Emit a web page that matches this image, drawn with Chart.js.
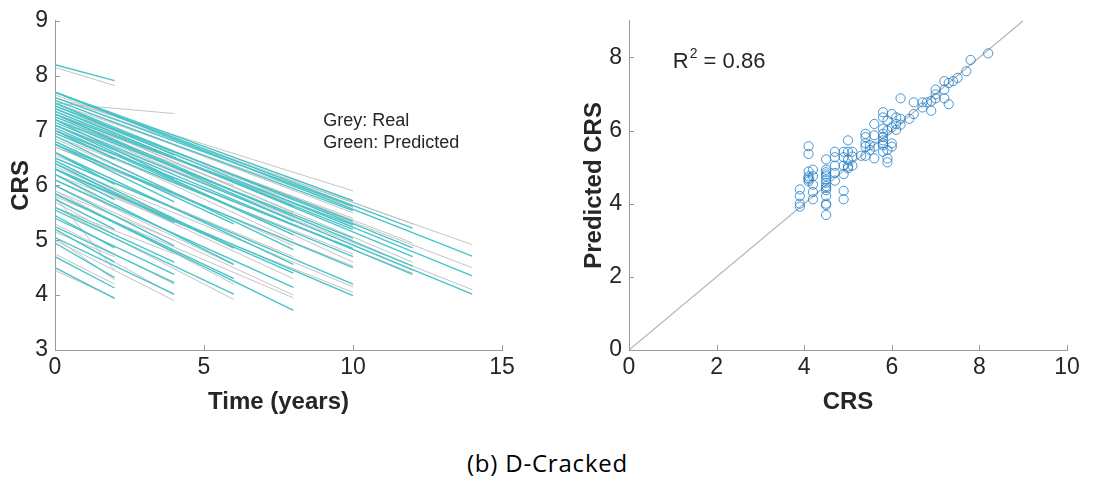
<!DOCTYPE html>
<html>
<head>
<meta charset="utf-8">
<script src="https://cdn.jsdelivr.net/npm/chart.js@4.4.0/dist/chart.umd.min.js"></script>
<style>
  html, body { margin: 0; background: #fff; }
  body { width: 1095px; height: 484px; position: relative; overflow: hidden; }
  #trend { position: absolute; left: 0; top: 0; }
  #fit { position: absolute; left: 560px; top: 0; }
  #caption { position: absolute; left: 0; width: 1095px; top: 446px; text-align: center;
             font: 24px 'Open Sans', sans-serif; letter-spacing: 0.8px; color: #000; }
</style>
</head>
<body>
<canvas id="trend" width="520" height="420"></canvas>
<canvas id="fit" width="535" height="420"></canvas>
<div id="caption">(b) D-Cracked</div>
<script>
// CRS trajectories per section: follow-up length, predicted and measured start/end
const endTimes  = [2, 2, 2, 2, 2, 2, 2, 2, 2, 2,
                   4, 4, 4, 4, 4, 4, 4, 4, 4,
                   6, 6, 6, 6, 6, 6, 6,
                   8, 8, 8, 8, 8, 8, 8, 8,
                   10, 10, 10, 10, 10, 10, 10, 10, 10, 10, 10, 10,
                   12, 12, 12, 12, 12,
                   14, 14, 14];
const predStart = [8.20, 7.00, 6.60, 6.30, 5.75, 5.45, 5.20, 4.95, 4.70, 4.50,
                   7.50, 7.20, 6.75, 6.40, 6.00, 5.60, 5.40, 5.25, 5.05,
                   7.30, 7.10, 6.80, 6.45, 6.20, 5.85, 5.55,
                   7.40, 7.30, 7.05, 6.90, 6.60, 6.30, 6.10, 5.85,
                   7.70, 7.60, 7.55, 7.45, 7.35, 7.30, 7.20, 7.00, 6.95, 6.75, 6.50, 6.30,
                   7.70, 7.50, 7.40, 7.25, 7.10,
                   7.70, 7.45, 7.15];
const predEnd   = [7.91, 6.48, 6.02, 5.74, 5.20, 4.86, 4.60, 4.32, 4.13, 3.94,
                   6.55, 6.12, 5.70, 5.32, 4.90, 4.60, 4.38, 4.23, 4.02,
                   5.90, 5.60, 5.30, 4.86, 4.56, 4.30, 4.02,
                   5.62, 5.35, 5.10, 4.83, 4.56, 4.40, 4.14, 3.72,
                   5.72, 5.62, 5.54, 5.35, 5.20, 5.28, 5.04, 4.85, 4.70, 4.50, 4.20, 3.99,
                   5.22, 4.86, 4.70, 4.53, 4.38,
                   4.71, 4.35, 4.02];
const realStart = [8.15, 6.95, 6.55, 6.20, 5.70, 5.80, 5.15, 5.05, 4.75, 4.45,
                   7.50, 7.10, 6.70, 6.35, 5.90, 5.60, 5.30, 5.20, 5.00,
                   7.20, 7.00, 6.70, 6.40, 6.10, 5.90, 5.60,
                   7.35, 7.20, 7.00, 6.85, 6.50, 6.30, 6.00, 5.80,
                   7.60, 7.55, 7.50, 7.40, 7.30, 7.25, 7.10, 7.10, 6.90, 6.70, 6.40, 6.20,
                   7.65, 7.45, 7.35, 7.20, 7.00,
                   7.60, 7.40, 7.10];
const realEnd   = [7.82, 6.55, 6.10, 5.60, 5.10, 4.45, 4.70, 4.28, 4.20, 3.95,
                   7.31, 6.20, 5.85, 5.40, 5.00, 4.75, 4.20, 4.00, 3.90,
                   6.00, 5.70, 5.40, 4.85, 4.55, 4.20, 3.92,
                   5.50, 5.45, 5.00, 4.90, 4.70, 4.30, 4.00, 3.95,
                   5.90, 5.50, 5.60, 5.40, 5.25, 5.35, 5.00, 4.60, 4.75, 4.53, 4.15, 4.05,
                   5.30, 4.95, 4.60, 4.45, 4.40,
                   4.92, 4.50, 4.10];

// measured vs predicted CRS
const crsMeasured  = [3.9, 3.9, 3.9, 3.9,
                      4.1, 4.1, 4.1, 4.1, 4.1, 4.1, 4.1,
                      4.2, 4.2, 4.2, 4.2, 4.2,
                      4.5, 4.5, 4.5, 4.5, 4.5, 4.5, 4.5, 4.5, 4.5, 4.5, 4.5, 4.5, 4.5, 4.5,
                      4.7, 4.7, 4.7, 4.7, 4.7,
                      4.9, 4.9, 4.9, 4.9, 4.9, 4.9,
                      5.0, 5.0, 5.0, 5.0, 5.0,
                      5.1, 5.1, 5.1, 5.3,
                      5.4, 5.4, 5.4, 5.4, 5.4, 5.5, 5.5,
                      5.6, 5.6, 5.6, 5.6,
                      5.8, 5.8, 5.8, 5.8, 5.8, 5.8, 5.8, 5.8, 5.8,
                      5.9, 5.9, 5.9, 5.9, 5.9,
                      6.0, 6.0, 6.0, 6.0,
                      6.1, 6.1, 6.1, 6.2, 6.2, 6.2, 6.4,
                      6.5, 6.5, 6.7, 6.7, 6.8, 6.9, 6.9,
                      7.0, 7.0, 7.0, 7.2, 7.2, 7.2, 7.3, 7.3, 7.4, 7.5,
                      7.7, 7.8, 8.2];
const crsPredicted = [4.39, 4.21, 4.00, 3.92,
                      5.57, 5.36, 4.88, 4.75, 4.70, 4.66, 4.61,
                      4.93, 4.75, 4.52, 4.32, 4.12,
                      5.21, 4.93, 4.86, 4.80, 4.75, 4.66, 4.57, 4.48, 4.43, 4.37, 4.21, 4.00, 3.96, 3.69,
                      5.42, 5.27, 5.04, 4.84, 4.63,
                      5.42, 5.27, 5.04, 4.81, 4.35, 4.12,
                      5.73, 5.42, 5.20, 5.02, 4.97,
                      5.42, 5.29, 5.04, 5.31,
                      5.91, 5.82, 5.65, 5.56, 5.31, 5.47, 5.60,
                      6.18, 5.87, 5.56, 5.24,
                      6.50, 6.36, 6.05, 5.91, 5.82, 5.73, 5.65, 5.60, 5.42,
                      6.27, 6.00, 5.47, 5.24, 5.13,
                      6.45, 6.09, 5.65, 5.56,
                      6.36, 6.18, 6.02, 6.88, 6.32, 6.16, 6.32,
                      6.77, 6.45, 6.77, 6.63, 6.77, 6.81, 6.54,
                      7.12, 6.99, 6.88, 7.35, 7.12, 6.88, 7.30, 6.72, 7.35, 7.44,
                      7.62, 7.93, 8.11];
const identityLine = [0, 9];

const TEAL = 'rgb(72,196,200)';
const GREY = 'rgba(190,190,190,0.9)';
const AXIS = '#9a9a9a';
const TEXT = '#262626';
const FONT = "'Liberation Sans', Arial, sans-serif";

// MATLAB-style ticks pointing into the plot area
const innerTicks = {
  id: 'innerTicks',
  afterDraw(chart) {
    const { ctx, chartArea: a } = chart;
    const xs = chart.scales.x, ys = chart.scales.y;
    ctx.save();
    ctx.strokeStyle = AXIS;
    ctx.lineWidth = 1;
    ctx.beginPath();
    xs.ticks.forEach(t => {
      const px = Math.round(xs.getPixelForValue(t.value)) + 0.5;
      ctx.moveTo(px, a.bottom); ctx.lineTo(px, a.bottom - 5);
    });
    ys.ticks.forEach(t => {
      const py = Math.round(ys.getPixelForValue(t.value)) + 0.5;
      ctx.moveTo(a.left, py); ctx.lineTo(a.left + 5, py);
    });
    ctx.stroke();
    ctx.restore();
  }
};

// free text placed in data coordinates
const notes = {
  id: 'notes',
  afterDraw(chart, args, opts) {
    const { ctx } = chart;
    const xs = chart.scales.x, ys = chart.scales.y;
    ctx.save();
    ctx.fillStyle = TEXT;
    ctx.textBaseline = 'alphabetic';
    (opts.items || []).forEach(it => {
      let px = xs.getPixelForValue(it.x);
      const py = ys.getPixelForValue(it.y);
      ctx.font = it.font;
      ctx.fillText(it.text, px, py);
      if (it.sup) {
        px += ctx.measureText(it.text).width;
        ctx.font = it.supFont;
        ctx.fillText(it.sup, px + 1, py - 10);
        px += ctx.measureText(it.sup).width + 1;
        ctx.font = it.font;
        ctx.fillText(it.rest, px, py);
      }
    });
    ctx.restore();
  }
};

function axis(min, max, step, title, width, titlePad, isY) {
  return {
    type: 'linear', min, max,
    afterFit(scale) { if (isY) scale.width = width; else scale.height = width; },
    // only labelled ticks up to the last whole step
    afterBuildTicks(scale) {
      scale.ticks = scale.ticks.filter(t => (t.value - min) % step === 0);
    },
    grid: { display: true, drawOnChartArea: false, drawTicks: false },
    border: { display: true, color: AXIS, width: 1 },
    ticks: { stepSize: step, color: TEXT, font: { family: FONT, size: 23 }, padding: isY ? 7 : 4 },
    title: { display: true, text: title, color: TEXT, padding: titlePad,
             font: { family: FONT, size: 24, weight: 'bold' } }
  };
}

const base = {
  responsive: false,
  animation: false,
  devicePixelRatio: 1,
  events: [],
  plugins: { legend: { display: false }, tooltip: { enabled: false } }
};

// left: CRS over time
const trendSets = [];
endTimes.forEach((t, i) => {
  trendSets.push({
    data: [{ x: 0, y: predStart[i] }, { x: t, y: predEnd[i] }],
    showLine: true, borderColor: TEAL, borderWidth: 1.4, pointRadius: 0, order: 0
  });
  trendSets.push({
    data: [{ x: 0, y: realStart[i] }, { x: t, y: realEnd[i] }],
    showLine: true, borderColor: GREY, borderWidth: 1, pointRadius: 0, order: 1
  });
});

new Chart(document.getElementById('trend'), {
  type: 'scatter',
  data: { datasets: trendSets },
  plugins: [innerTicks, notes],
  options: {
    ...base,
    layout: { padding: { top: 16, right: 18, left: 0, bottom: 0 } },
    plugins: {
      ...base.plugins,
      notes: { items: [
        { x: 9.0, y: 7.08, text: 'Grey: Real', font: `18px ${FONT}` },
        { x: 9.0, y: 6.68, text: 'Green: Predicted', font: `18px ${FONT}` }
      ] }
    },
    scales: {
      x: axis(0, 15, 5, 'Time (years)', 70, { top: 0, bottom: 3 }, false),
      y: axis(3, 9, 1, 'CRS', 55, { top: 7, bottom: 0 }, true)
    }
  }
});

// right: predicted vs measured
new Chart(document.getElementById('fit'), {
  type: 'scatter',
  data: {
    datasets: [
      {
        data: crsMeasured.map((v, i) => ({ x: v, y: crsPredicted[i] })),
        pointRadius: 4.6, pointBorderWidth: 1, pointBackgroundColor: 'rgba(0,0,0,0)',
        pointBorderColor: 'rgba(30,125,200,0.8)', order: 0
      },
      {
        data: identityLine.map(v => ({ x: v, y: v })),
        showLine: true, borderColor: '#b4b4b4', borderWidth: 1.2, pointRadius: 0, order: 1
      }
    ]
  },
  plugins: [innerTicks, notes],
  options: {
    ...base,
    layout: { padding: { top: 15, right: 28, left: 0, bottom: 0 } },
    plugins: {
      ...base.plugins,
      notes: { items: [
        { x: 1.0, y: 7.72, text: 'R', sup: '2', rest: ' = 0.86',
          font: `22px ${FONT}`, supFont: `14px ${FONT}` }
      ] }
    },
    scales: {
      x: axis(0, 10, 2, 'CRS', 70, { top: 0, bottom: 3 }, false),
      y: axis(0, 9, 2, 'Predicted CRS', 69, { top: 20, bottom: 0 }, true)
    }
  }
});
</script>
</body>
</html>
